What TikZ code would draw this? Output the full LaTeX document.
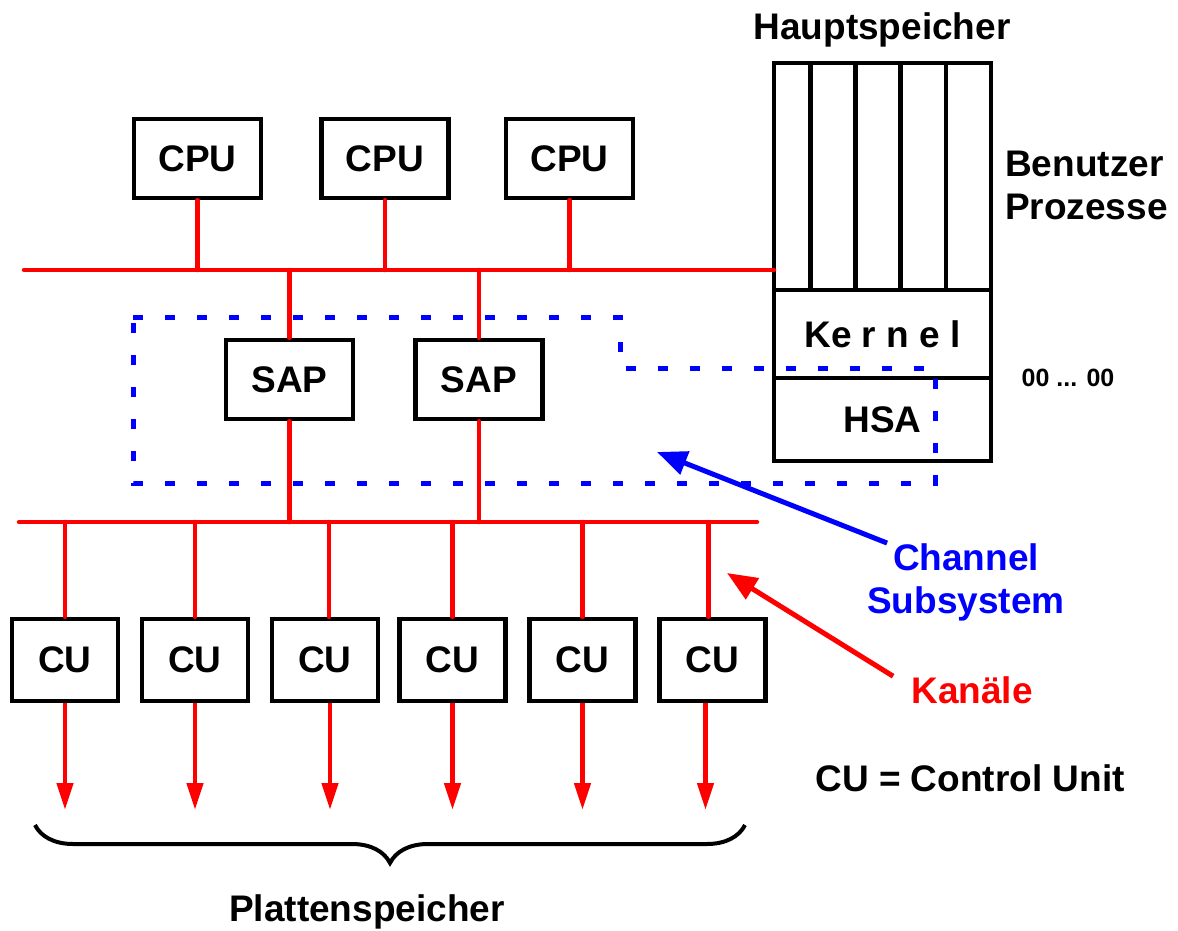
\documentclass[tikz,border=0pt]{standalone}
\usepackage{fontspec}
\setmainfont{Liberation Sans}
\usetikzlibrary{arrows.meta,positioning,calc,decorations.pathreplacing}

\begin{document}
\begin{tikzpicture}[
  x=1pt, y=-1pt,
  font=\bfseries\fontsize{37}{43}\selectfont,
  unit/.style={
    draw=black,
    line width=4.5pt,
    minimum width=127pt,
    minimum height=79pt,
    inner sep=0pt
  },
  cunit/.style={
    unit,
    minimum width=106pt,
    minimum height=82pt
  },
  mem/.style={
    draw=black,
    line width=4.5pt,
    outer sep=0pt,
    inner sep=0pt,
    minimum width=45.1pt,
    minimum height=227pt
  },
  memrow/.style={
    mem,
    minimum width=217pt
  },
  bus/.style={draw=red, line width=4.5pt, line cap=round},
  drop/.style={-{Triangle[length=27pt,width=16pt]}, draw=red, line width=4.5pt},
  pointer/.style={-{Triangle[length=30pt,width=24pt]}, line width=5pt},
  label/.style={inner sep=0pt, align=center},
  node distance=58pt
]
\useasboundingbox (0,0) rectangle (1178,931);

% processors
\node[unit] (cpu1) at (197.5,158.5) {CPU};
\node[unit, right=56pt of cpu1] (cpu2) {CPU};
\node[unit, right=53pt of cpu2] (cpu3) {CPU};

% main memory
\node[label] (hs) at (882,30) {Hauptspeicher};
\node[mem, minimum width=36.5pt] (p1) at (792.25,176.5) {};
\node[mem, right=0pt of p1] (p2) {};
\node[mem, right=0pt of p2] (p3) {};
\node[mem, right=0pt of p3] (p4) {};
\node[mem, right=0pt of p4] (p5) {};
\node[memrow, anchor=north west, minimum height=88pt] (kernel) at (p1.south west) {Ke r n e l};
\node[memrow, below=0pt of kernel, minimum height=83pt] (hsa) {HSA};
\node[label, anchor=west, align=left] (user) at (1005,185) {Benutzer\\Prozesse};
\node[label, font=\bfseries\fontsize{25}{30}\selectfont] (zero) at (1068,378) {00 ... 00};

% system bus
\coordinate (topbus) at (24,270);
\draw[bus] (topbus) -- (topbus -| p1.west);
\draw[bus] (cpu1.south) -- (cpu1.south |- topbus);
\draw[bus] (cpu2.south) -- (cpu2.south |- topbus);
\draw[bus] (cpu3.south) -- (cpu3.south |- topbus);

% channel subsystem
\node[unit] (sap1) at (289.5,379.5) {SAP};
\node[unit, right=of sap1] (sap2) {SAP};
\draw[bus] (sap1.north |- topbus) -- (sap1.north);
\draw[bus] (sap2.north |- topbus) -- (sap2.north);

\draw[blue, line width=5pt, dash pattern=on 10pt off 22pt]
  (133,317) -- (620,317) -- (620,368) -- (935,368) -- (935,483) -- (133,483) -- cycle;

% channels
\coordinate (lowbus) at (19,522);
\coordinate (lowbusE) at (757,522);
\draw[bus] (lowbus) -- (lowbusE);
\draw[bus] (sap1.south) -- (sap1.south |- lowbus);
\draw[bus] (sap2.south) -- (sap2.south |- lowbus);

\node[cunit] (cu1) at (65,660) {CU};
\node[cunit, right=19.5pt of cu1] (cu2) {CU};
\node[cunit, right=19.5pt of cu2] (cu3) {CU};
\node[cunit, right=17pt of cu3] (cu4) {CU};
\node[cunit, right=19.5pt of cu4] (cu5) {CU};
\node[cunit, right=19.5pt of cu5] (cu6) {CU};
\draw[bus] (cu1.north |- lowbus) -- (cu1.north);
\draw[bus] (cu2.north |- lowbus) -- (cu2.north);
\draw[bus] ([xshift=4pt]cu3.north |- lowbus) -- ([xshift=4pt]cu3.north);
\draw[bus] (cu4.north |- lowbus) -- (cu4.north);
\draw[bus] (cu5.north |- lowbus) -- (cu5.north);
\draw[bus] ([xshift=-4pt]cu6.north |- lowbus) -- ([xshift=-4pt]cu6.north);

% disks
\coordinate (disk) at (0,810);
\draw[drop] (cu1.south) -- (cu1.south |- disk);
\draw[drop] (cu2.south) -- (cu2.south |- disk);
\draw[drop] ([xshift=5pt]cu3.south) -- ([xshift=5pt]cu3.south |- disk);
\draw[drop] (cu4.south) -- (cu4.south |- disk);
\draw[drop] (cu5.south) -- (cu5.south |- disk);
\draw[drop] ([xshift=-7pt]cu6.south) -- ([xshift=-7pt]cu6.south |- disk);

\coordinate (braceL) at (35,825);
\coordinate (braceR) at (745,825);
\draw[line width=4pt, decorate, decoration={brace, mirror, amplitude=38pt}]
  (braceL) -- (braceR);
\node[label] (platte) at (367,912) {Plattenspeicher};

% labels
\node[label, blue] (chan) at (966,582) {Channel\\Subsystem};
\coordinate (chanTip) at (657,452);
\draw[pointer, blue] ([xshift=20pt]chan.north west) -- (chanTip);

\node[label, red] (kan) at (972,690) {Kanäle};
\coordinate (kanTip) at (727,573);
\draw[pointer, red] ([xshift=-18pt]kan.north west) -- (kanTip);

\node[label] (legend) at (970,778) {CU = Control Unit};
\end{tikzpicture}
\end{document}
